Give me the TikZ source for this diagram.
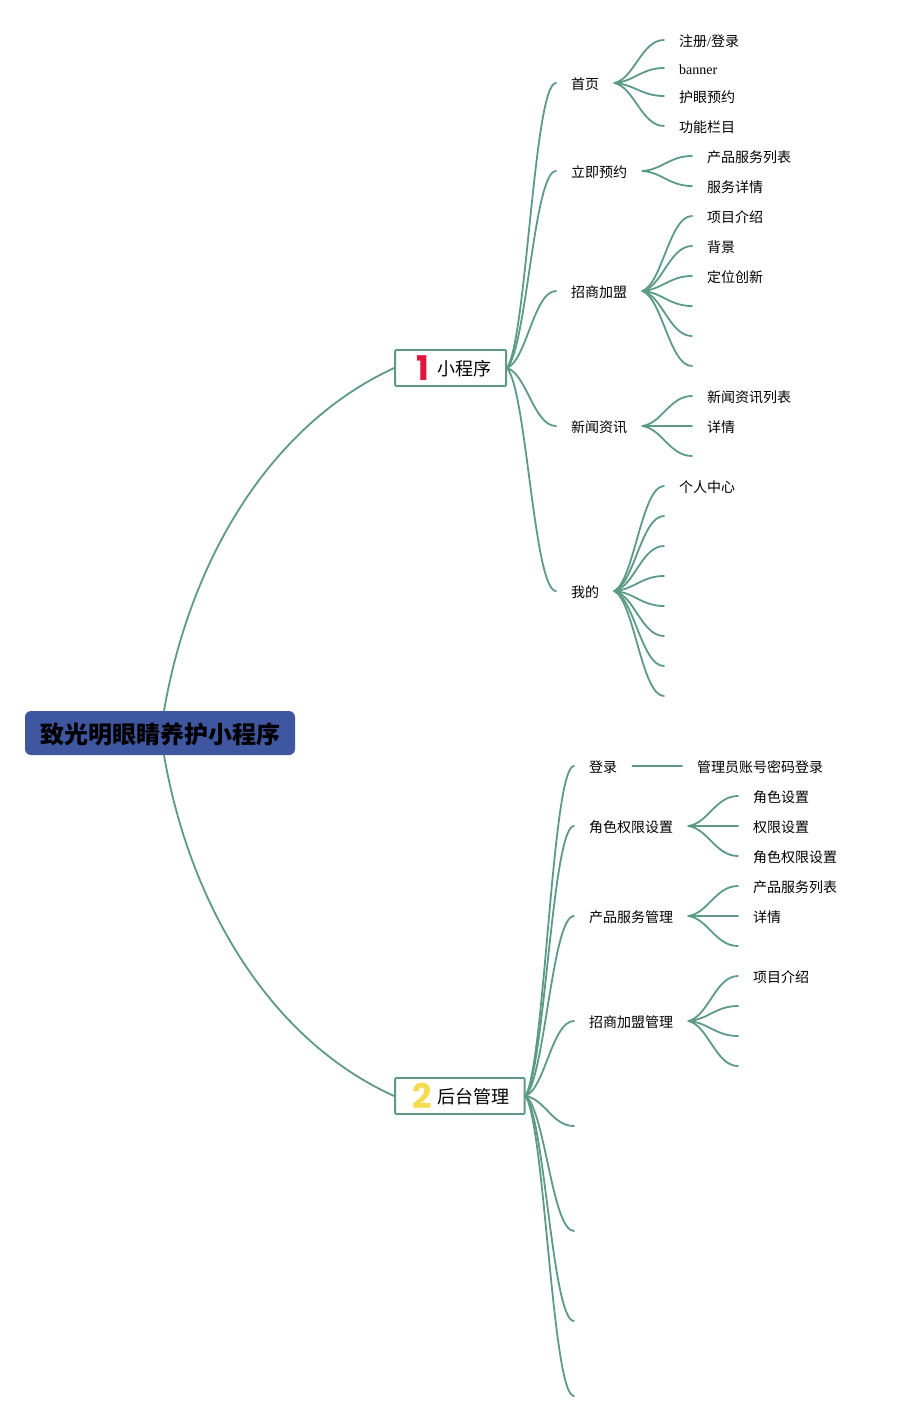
\documentclass[tikz,border=0pt]{standalone}
\usepackage{fontspec}
\setmainfont{Noto Sans CJK SC}
\newfontfamily\latinfont{Liberation Serif}
\newfontfamily\digitfont{Poppins}
\usetikzlibrary{calc}
\definecolor{linegreen}{HTML}{5C9A86}
\definecolor{rootblue}{HTML}{3F57A0}
\definecolor{numred}{HTML}{E0153C}
\definecolor{numyellow}{HTML}{F6DA50}
\tikzset{
	topic/.style={anchor=west,inner xsep=15pt,inner ysep=0pt,text height=14pt,text depth=1.4pt,font=\fontsize{14}{16}\selectfont},
	mainbox/.style={draw=linegreen,line width=1.8pt,rounded corners=1pt,fill=white,anchor=west,minimum height=36pt,inner sep=0pt},
	maintext/.style={anchor=west,inner sep=0pt,font=\fontsize{18}{20}\selectfont},
	numfont/.style={inner sep=0pt,font=\fontsize{34}{34}\digitfont\bfseries},
	branch/.style={to path={let \p1=(\tikztostart),\p2=(\tikztotarget) in
		.. controls ({\x1+0.4*(\x2-\x1)},{\y1+0.1*(\y2-\y1)}) and ({\x1+0.55*(\x2-\x1)},\y2) .. (\tikztotarget)}},
	link/.style={draw=linegreen,line width=1.8pt,line cap=round}
}
\begin{document}
\begin{tikzpicture}[x=1pt,y=-1pt]
	\useasboundingbox (0,0) rectangle (897,1421);
	\node[fill=rootblue,rounded corners=6pt,minimum width=270pt,minimum height=44pt,inner sep=0pt,text height=22pt,text depth=1.8pt,font=\fontsize{24}{26}\selectfont\bfseries] (root) at (160,733) {致光明眼睛养护小程序};
	\node[mainbox,minimum width=111pt] (app) at (394.2,368) {};
	\node[numfont,text=numred] (appnum) at (423,368) {1};
	\node[maintext] (apptext) at (437,369) {小程序};
	\node[mainbox,minimum width=129.5pt] (admin) at (394.2,1096) {};
	\node[numfont,text=numyellow] (adminnum) at (422,1096) {2};
	\node[maintext] (admintext) at (437,1097) {后台管理};
	% mini program
	\node[topic] (home) at (556,83) {首页};
	\node[topic] (book) at (556,171) {立即预约};
	\node[topic] (join) at (556,291) {招商加盟};
	\node[topic] (news) at (556,426) {新闻资讯};
	\node[topic] (mine) at (556,591) {我的};
	\node[topic] (login) at (664,40) {注册{\latinfont /}登录};
	\node[topic,font=\fontsize{14}{16}\latinfont] (banner) at (664,68) {banner};
	\node[topic] (eyecare) at (664,96) {护眼预约};
	\node[topic] (menu) at (664,126) {功能栏目};
	\node[topic] (svclist) at (692,156) {产品服务列表};
	\node[topic] (svcinfo) at (692,186) {服务详情};
	\node[topic] (intro) at (692,216) {项目介绍};
	\node[topic] (backgr) at (692,246) {背景};
	\node[topic] (place) at (692,276) {定位创新};
	\node[topic] (newslist) at (692,396) {新闻资讯列表};
	\node[topic] (newsinfo) at (692,426) {详情};
	\node[topic] (center) at (664,486) {个人中心};
	\foreach \name/\ypos in {joinD/306,joinE/336,joinF/366,newsC/456}
		\coordinate (\name) at (692,\ypos);
	\foreach \name/\ypos in {mineB/516,mineC/546,mineD/576,mineE/606,mineF/636,mineG/666,mineH/696}
		\coordinate (\name) at (664,\ypos);
	% admin
	\node[topic] (signin) at (574,766) {登录};
	\node[topic] (role) at (574,826) {角色权限设置};
	\node[topic] (product) at (574,916) {产品服务管理};
	\node[topic] (franchise) at (574,1021) {招商加盟管理};
	\foreach \name/\ypos in {adminE/1126,adminF/1231,adminG/1321,adminH/1396}
		\coordinate (\name) at (574,\ypos);
	\node[topic] (account) at (682,766) {管理员账号密码登录};
	\node[topic] (roleset) at (738,796) {角色设置};
	\node[topic] (rightset) at (738,826) {权限设置};
	\node[topic] (rolerights) at (738,856) {角色权限设置};
	\node[topic] (prodlist) at (738,886) {产品服务列表};
	\node[topic] (prodinfo) at (738,916) {详情};
	\coordinate (prodC) at (738,946);
	\node[topic] (fintro) at (738,976) {项目介绍};
	\foreach \name/\ypos in {franB/1006,franC/1036,franD/1066}
		\coordinate (\name) at (738,\ypos);
	% connectors
	\draw[link] ([xshift=4pt]root.north) .. controls (190,560) and (270,425) .. (app.west);
	\draw[link] ([xshift=4pt]root.south) .. controls (190,905) and (270,1040) .. (admin.west);
	\foreach \target in {home,book,join,news,mine}
		\draw[link] (app.east) to[branch] (\target.west);
	\foreach \target in {login,banner,eyecare,menu}
		\draw[link] (home.east) to[branch] (\target.west);
	\foreach \target in {svclist,svcinfo}
		\draw[link] (book.east) to[branch] (\target.west);
	\foreach \target in {intro,backgr,place}
		\draw[link] (join.east) to[branch] (\target.west);
	\foreach \target in {joinD,joinE,joinF}
		\draw[link] (join.east) to[branch] (\target);
	\foreach \target in {newslist,newsinfo}
		\draw[link] (news.east) to[branch] (\target.west);
	\draw[link] (news.east) to[branch] (newsC);
	\draw[link] (mine.east) to[branch] (center.west);
	\foreach \target in {mineB,mineC,mineD,mineE,mineF,mineG,mineH}
		\draw[link] (mine.east) to[branch] (\target);
	\foreach \target in {signin,role,product,franchise}
		\draw[link] (admin.east) to[branch] (\target.west);
	\foreach \target in {adminE,adminF,adminG,adminH}
		\draw[link] (admin.east) to[branch] (\target);
	\draw[link] (signin.east) -- (account.west);
	\foreach \target in {roleset,rightset,rolerights}
		\draw[link] (role.east) to[branch] (\target.west);
	\foreach \target in {prodlist,prodinfo}
		\draw[link] (product.east) to[branch] (\target.west);
	\draw[link] (product.east) to[branch] (prodC);
	\draw[link] (franchise.east) to[branch] (fintro.west);
	\foreach \target in {franB,franC,franD}
		\draw[link] (franchise.east) to[branch] (\target);
\end{tikzpicture}
\end{document}
